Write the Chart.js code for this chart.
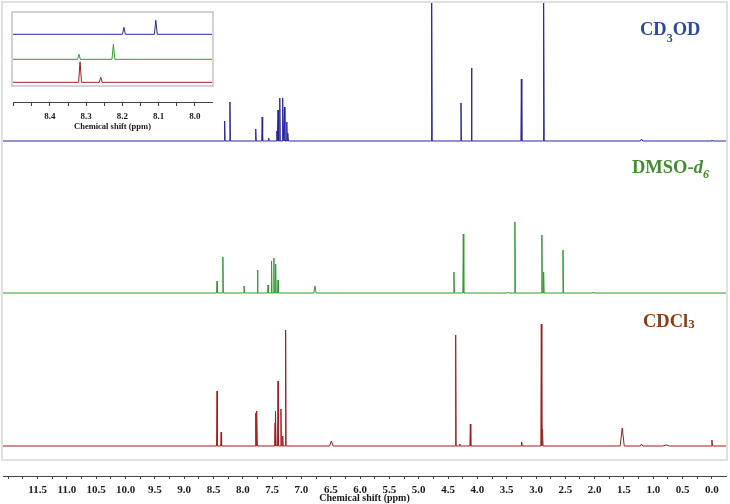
<!DOCTYPE html>
<html>
<head>
<meta charset="utf-8">
<script src="https://cdn.jsdelivr.net/npm/chart.js@4.4.0/dist/chart.umd.min.js"></script>
<style>
  html, body { margin: 0; padding: 0; background: #fff; }
  #wrap { position: relative; width: 730px; height: 504px; }
  #mainBox { position: absolute; left: 0; top: 0; width: 730px; height: 504px; }
  #insetBox { position: absolute; left: 0; top: 0; width: 230px; height: 132px; z-index: 2; }
</style>
</head>
<body>
<div id="wrap">
  <div id="mainBox"><canvas id="mainChart" width="730" height="504"></canvas></div>
  <div id="insetBox"><canvas id="insetChart" width="230" height="132"></canvas></div>
</div>
<script>
// Peak lists: shift (ppm), height (arb. units), half width (ppm)
const cd3odShift  = [8.31, 8.22, 7.78, 7.67, 7.56, 7.42, 7.40, 7.37, 7.32, 7.29, 7.25, 7.23, 4.78, 4.28, 4.10, 3.25, 2.87, 1.20, 0.00];
const cd3odHeight = [20, 39, 12, 24, 3, 10, 31, 43, 43, 34, 19, 8, 170, 38, 73, 62, 138, 2, 1];
const cd3odWidth  = [0.008, 0.008, 0.008, 0.008, 0.01, 0.008, 0.008, 0.008, 0.008, 0.008, 0.008, 0.008, 0.01, 0.008, 0.008, 0.008, 0.01, 0.02, 0.01];

const dmsoShift  = [8.44, 8.34, 7.98, 7.75, 7.57, 7.51, 7.47, 7.44, 7.40, 6.77, 4.40, 4.24, 3.47, 3.36, 2.90, 2.87, 2.54, 2.02];
const dmsoHeight = [12, 36, 7, 23, 8, 32, 35, 29, 13, 7, 21, 59, 1, 71, 58, 21, 43, 1];
const dmsoWidth  = [0.008, 0.008, 0.01, 0.008, 0.008, 0.008, 0.008, 0.008, 0.008, 0.02, 0.008, 0.008, 0.01, 0.008, 0.008, 0.008, 0.008, 0.01];

const cdcl3Shift  = [8.44, 8.37, 7.78, 7.76, 7.45, 7.44, 7.40, 7.35, 7.32, 7.27, 6.49, 4.37, 4.30, 4.12, 3.245, 2.91, 2.89, 1.53, 1.20, 0.78, 0.00];
const cdcl3Height = [55, 14, 33, 35, 23, 35, 65, 37, 10, 116, 5, 111, 2, 22, 4, 122, 17, 18, 2, 1, 6];
const cdcl3Width  = [0.008, 0.008, 0.008, 0.008, 0.008, 0.008, 0.008, 0.008, 0.008, 0.008, 0.03, 0.008, 0.01, 0.008, 0.008, 0.008, 0.01, 0.035, 0.02, 0.06, 0.008];

// Inset (8.0 - 8.5 ppm)
const insetBlueShift  = [8.196, 8.108];
const insetBlueHeight = [7, 14];
const insetGreenShift  = [8.32, 8.225];
const insetGreenHeight = [5, 15];
const insetRedShift  = [8.317, 8.26];
const insetRedHeight = [20.5, 5];

// Axis ticks
const mainMajorTicks = [11.5, 11.0, 10.5, 10.0, 9.5, 9.0, 8.5, 8.0, 7.5, 7.0, 6.5, 6.0, 5.5, 5.0, 4.5, 4.0, 3.5, 3.0, 2.5, 2.0, 1.5, 1.0, 0.5, 0.0];
const mainMinorTicks = [12.0, 11.75, 11.25, 10.75, 10.25, 9.75, 9.25, 8.75, 8.25, 7.75, 7.25, 6.75, 6.25, 5.75, 5.25, 4.75, 4.25, 3.75, 3.25, 2.75, 2.25, 1.75, 1.25, 0.75, 0.25];
const insetMajorTicks = [8.4, 8.3, 8.2, 8.1, 8.0];
const insetMinorTicks = [8.5, 8.45, 8.35, 8.25, 8.15, 8.05];

const SERIF = '"Liberation Serif", "Times New Roman", serif';
const BLUE = '#26269a', GREEN = '#2f9b2f', RED = '#9e1f1f';

function buildTrace(shifts, heights, widths, base, lo, hi) {
    const order = shifts.map((_, i) => i).sort((a, b) => shifts[b] - shifts[a]);
    const pts = [{ x: hi, y: base }];
    order.forEach(i => {
        const w = widths ? widths[i] : 0.004;
        pts.push({ x: shifts[i] + w, y: base });
        pts.push({ x: shifts[i], y: base + heights[i] });
        pts.push({ x: shifts[i] - w, y: base });
    });
    pts.push({ x: lo, y: base });
    return pts;
}

function lineSet(data, color, width) {
    return { data: data, borderColor: color, borderWidth: width, pointRadius: 0, tension: 0, fill: false };
}

function tickList(major, minor) {
    return major.concat(minor).sort((a, b) => a - b).map(v => ({ value: v }));
}

// grey frame round the plot area
const framePlugin = {
    id: 'frame',
    beforeDatasetsDraw(chart, args, opts) {
        const { ctx, chartArea, scales } = chart;
        const bottom = scales.y.getPixelForValue(opts.bottomValue);
        ctx.save();
        ctx.strokeStyle = opts.color;
        ctx.lineWidth = opts.width;
        ctx.strokeRect(chartArea.left - 1, chartArea.top - 1, chartArea.right - chartArea.left + 2, bottom - chartArea.top + 1);
        ctx.restore();
    }
};

// solvent names at the right side
const solventPlugin = {
    id: 'solvents',
    afterDatasetsDraw(chart, args, opts) {
        if (!opts.items) return;
        const { ctx, chartArea, scales } = chart;
        ctx.save();
        ctx.textBaseline = 'alphabetic';
        opts.items.forEach(item => {
            let x = chartArea.left + item.dx;
            const y = scales.y.getPixelForValue(item.value);
            ctx.fillStyle = item.color;
            item.parts.forEach(p => {
                ctx.font = `${p.italic ? 'italic ' : ''}bold ${p.size}px ${SERIF}`;
                ctx.fillText(p.text, x, y + (p.dy || 0));
                x += ctx.measureText(p.text).width;
            });
        });
        ctx.restore();
    }
};

function axisOptions(min, max, major, minor, height, tickLen, pad, labelSize, titleSize) {
    return {
        type: 'linear',
        reverse: true,
        min: min,
        max: max,
        afterBuildTicks: scale => { scale.ticks = tickList(major, minor); },
        afterFit: scale => { scale.height = height; },
        border: { display: true, color: '#444', width: 1 },
        grid: { drawOnChartArea: false, drawTicks: true, tickLength: tickLen, color: '#444' },
        ticks: {
            autoSkip: false, maxRotation: 0, padding: pad, color: '#1a1a1a',
            font: { family: SERIF, size: labelSize, weight: 'bold' },
            callback: v => major.includes(v) ? v.toFixed(1) : ''
        },
        title: {
            display: true, text: 'Chemical shift (ppm)', color: '#1a1a1a',
            font: { family: SERIF, size: titleSize, weight: 'bold' }, padding: { top: 0, bottom: 0 }
        }
    };
}

const mainMin = -0.24, mainMax = 12.09;

new Chart(document.getElementById('mainChart'), {
    type: 'line',
    data: {
        datasets: [
            lineSet(buildTrace(cd3odShift, cd3odHeight, cd3odWidth, 335, mainMin, mainMax), BLUE, 1),
            lineSet(buildTrace(dmsoShift, dmsoHeight, dmsoWidth, 183, mainMin, mainMax), GREEN, 1),
            lineSet(buildTrace(cdcl3Shift, cdcl3Height, cdcl3Width, 30, mainMin, mainMax), RED, 1)
        ]
    },
    options: {
        responsive: false,
        animation: false,
        devicePixelRatio: 1,
        layout: { autoPadding: false, padding: { left: 3, right: 4, top: 3, bottom: 0 } },
        plugins: {
            legend: { display: false },
            tooltip: { enabled: false },
            frame: { bottomValue: 16, color: '#e0e0e0', width: 2 },
            solvents: {
                items: [
                    { value: 441, dx: 637, color: '#2d4b96', parts: [
                        { text: 'CD', size: 18.5 }, { text: '3', size: 12, dy: 6.5 }, { text: 'OD', size: 18.5 }] },
                    { value: 303, dx: 629, color: '#468c32', parts: [
                        { text: 'DMSO-', size: 18.5 }, { text: 'd', size: 18.5, italic: true }, { text: '6', size: 12, dy: 5, italic: true }] },
                    { value: 149.5, dx: 640, color: '#8c3c14', parts: [
                        { text: 'CDCl', size: 18.5 }, { text: '3', size: 13, dy: 1.5 }] }
                ]
            }
        },
        scales: {
            x: axisOptions(mainMin, mainMax, mainMajorTicks, mainMinorTicks, 28, 3, 5, 11, 10),
            y: { display: false, min: 0, max: 473 }
        }
    },
    plugins: [framePlugin, solventPlugin]
});

const insetMin = 7.953, insetMax = 8.502;

new Chart(document.getElementById('insetChart'), {
    type: 'line',
    data: {
        datasets: [
            lineSet(buildTrace(insetBlueShift, insetBlueHeight, null, 67.7, insetMin, insetMax), BLUE, 1),
            lineSet(buildTrace(insetGreenShift, insetGreenHeight, null, 42.7, insetMin, insetMax), GREEN, 1),
            lineSet(buildTrace(insetRedShift, insetRedHeight, null, 19.7, insetMin, insetMax), RED, 1)
        ]
    },
    options: {
        responsive: false,
        animation: false,
        devicePixelRatio: 1,
        layout: { autoPadding: false, padding: { left: 13, right: 18, top: 13, bottom: 0 } },
        plugins: {
            legend: { display: false },
            tooltip: { enabled: false },
            frame: { bottomValue: 16, color: '#c4c4c4', width: 1.5 }
        },
        scales: {
            x: axisOptions(insetMin, insetMax, insetMajorTicks, insetMinorTicks, 30, 4, 5, 9, 8.5),
            y: { display: false, min: 0, max: 89 }
        }
    },
    plugins: [framePlugin]
});
</script>
</body>
</html>
